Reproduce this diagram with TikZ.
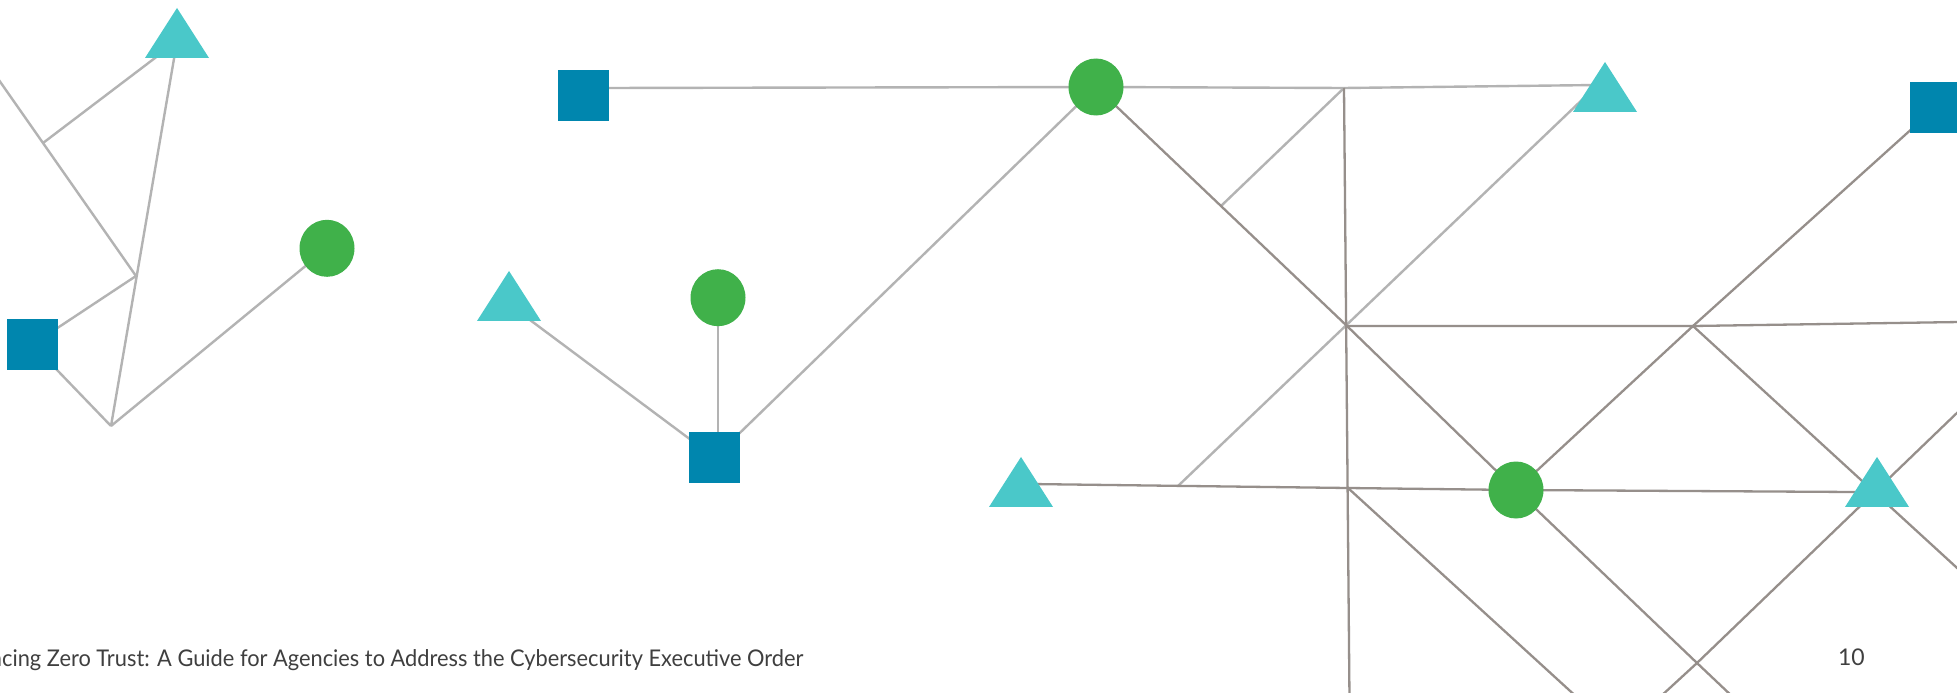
\documentclass[tikz,border=0pt]{standalone}
\usepackage{fontspec}
\setmainfont{Lato}
\usetikzlibrary{shapes.geometric,backgrounds}
\definecolor{sqc}{HTML}{0086AE}
\definecolor{tric}{HTML}{4AC8C9}
\definecolor{circc}{HTML}{40B14A}
\definecolor{lightl}{HTML}{B3B3B3}
\definecolor{darkl}{HTML}{968F8B}
\definecolor{txt}{HTML}{3F3F3F}
\begin{document}
\begin{tikzpicture}[x=1pt,y=-1pt,
  sqnode/.style={rectangle,fill=sqc,minimum size=51pt,inner sep=0pt,outer sep=0pt},
  cnode/.style={ellipse,fill=circc,minimum width=55pt,minimum height=57pt,inner sep=0pt,outer sep=0pt},
  tnode/.style={regular polygon,regular polygon sides=3,fill=tric,minimum size=73.9pt,inner sep=0pt,outer sep=0pt,yscale=0.902},
  lite/.style={draw=lightl,line width=2.4pt},
  dark/.style={draw=darkl,line width=2.3pt},
  lbl/.style={inner sep=0pt,outer sep=0pt,font=\fontsize{23}{27}\selectfont,text=txt}]
\useasboundingbox (0,0) rectangle (1957,693);
\clip (0,0) rectangle (1957,693);
% shapes
\node[tnode] (T1) at (177,41.3) {};
\node[tnode] (T2) at (509,304.3) {};
\node[tnode] (T3) at (1605,95.3) {};
\node[tnode] (T4) at (1021,490.3) {};
\node[tnode] (T5) at (1877,490.3) {};
\node[sqnode] (S1) at (32.5,344.5) {};
\node[sqnode] (S2) at (583.5,95.5) {};
\node[sqnode] (S3) at (714.5,457.5) {};
\node[sqnode] (S4) at (1935.5,107.5) {};
\node[cnode] (C1) at (327,248.3) {};
\node[cnode] (C2) at (718,297.7) {};
\node[cnode] (C3) at (1096,87) {};
\node[cnode] (C4) at (1516,490) {};
% junctions
\coordinate (L0) at (-20,53);
\coordinate (jA) at (43,143);
\coordinate (jB) at (136,276);
\coordinate (jC) at (111,426);
\coordinate (s2r) at (605,88);
\coordinate (jD) at (1344,88);
\coordinate (jE) at (1347,326);
\coordinate (jF) at (1348,488);
\coordinate (vb) at (1349.5,700);
\coordinate (jG) at (1221,206);
\coordinate (jH) at (1178,486);
\coordinate (t3l) at (1598,85);
\coordinate (t3b) at (1585,97);
\coordinate (t4r) at (1030,484);
\coordinate (t5l) at (1855,492);
\coordinate (jI) at (1693,326);
\coordinate (R1) at (1960,322);
\coordinate (E2) at (1980,589);
\coordinate (jJ) at (1697,663);
\coordinate (B1) at (1660,697);
\coordinate (E3) at (1960,410);
\coordinate (Cend) at (1735,699);
\coordinate (Fend) at (1580,700);
\begin{scope}[on background layer]
\clip (0,0) rectangle (1957,693);
\fill[white] (0,0) rectangle (1957,693);
% light connectors
\path[lite] (L0) -- (jA) -- (jB);
\path[lite] (jA) -- (T1.center);
\path[lite] (T1.center) -- (jC);
\path[lite] (S1.center) -- (jB);
\path[lite] (S1.center) -- (jC);
\path[lite] (jC) -- (C1.center);
\path[lite] (s2r) -- (C3.center);
\path[lite] (T2.center) -- (S3.center);
\path[lite] (C2.center) -- (C2 |- S3);
\path[lite] (S3.center) -- (C3.center);
\path[lite] (C3.center) -- (jD) -- (t3l);
\path[lite] (jD) -- (jG);
\path[lite] (t3b) -- (jH);
% dark connectors
\path[dark] (C3.center) -- (jE) -- (C4.center);
\path[dark] (jD) -- (vb);
\path[dark] (jE) -- (jI) -- (R1);
\path[dark] (S4.center) -- (jI) -- (C4.center);
\path[dark] (jI) -- (E2);
\path[dark] (B1) -- (jJ) -- (E3);
\path[dark] (t4r) -- (jF) -- (C4.center) -- (t5l);
\path[dark] (C4.center) -- (jJ) -- (Cend);
\path[dark] (jF) -- (Fend);
\end{scope}
% texts
\node[lbl,anchor=base west,xscale=0.948] (title) at (-10,666) {ncing Zero Trust: A Guide for Agencies to Address the Cybersecurity Executive Order};
\node[lbl,anchor=base west] (pg) at (1838,665) {10};
\end{tikzpicture}
\end{document}
